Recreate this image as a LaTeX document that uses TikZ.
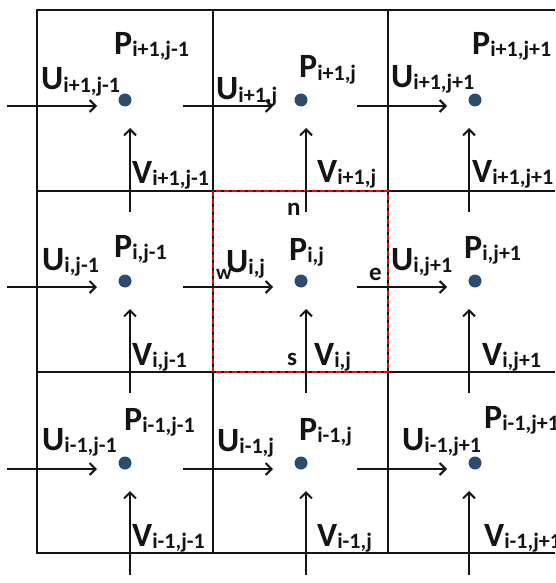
\documentclass[tikz,border=0pt]{standalone}
\usepackage{fontspec}
\setmainfont{Carlito}
\usetikzlibrary{arrows.meta}
\definecolor{dotblue}{HTML}{2B4C6F}
\definecolor{ink}{HTML}{141414}
\newcommand{\lbl}[2]{#1\raisebox{-2pt}{\fontsize{22}{22}\selectfont #2}}
\tikzset{
  grid/.style={line width=2.4pt, ink},
  redbox/.style={line width=2.4pt, red, dash pattern=on 5pt off 3pt},
  uarr/.style={line width=2pt, ink, -{Straight Barb[length=6pt,width=12pt,line width=2pt]}},
  varr/.style={line width=2pt, ink, -{Straight Barb[length=6pt,width=12pt,line width=2pt]}},
  pdot/.style={circle, fill=dotblue, minimum size=13pt, inner sep=0pt},
  lab/.style={anchor=base west, inner sep=0pt, text=ink, font=\bfseries\fontsize{34}{34}\selectfont},
  small/.style={anchor=base west, inner sep=0pt, text=ink, font=\bfseries\fontsize{25}{25}\selectfont}
}
\begin{document}
\begin{tikzpicture}[x=1pt,y=-1pt]
\useasboundingbox (0,0) rectangle (555,583);
% grid
\foreach \xx in {37,213,388} \draw[grid] (\xx,9) -- (\xx,554);
\foreach \yy in {10,191,372,553} \draw[grid] (36,\yy) -- (555,\yy);
\draw[redbox] (213,191) rectangle (388,372);
% dots
\foreach \r/\yy in {1/100,2/281,3/463}{
  \foreach \c/\xx in {1/125,2/301,3/475}{
    \node[pdot] (d\r\c) at (\xx,\yy) {};
  }
}
% U arrows
\foreach \r in {1,2,3}{
  \foreach \c in {1,2,3}{
    \draw[uarr] ([xshift=-118pt,yshift=-6pt]d\r\c.center) -- ([xshift=-28pt,yshift=-6pt]d\r\c.center);
  }
}
% V arrows
\foreach \r in {1,2,3}{
  \foreach \c/\dx in {1/5,2/5,3/-6}{
    \draw[varr] ([xshift=\dx pt,yshift=-112pt]d\r\c.center) -- ([xshift=\dx pt,yshift=-28pt]d\r\c.center);
  }
}
% row 1 labels
\node[lab] (p11) at (114,55) {\lbl{P}{i+1,j-1}};
\node[lab] (u11) at (41,90) {\lbl{U}{i+1,j-1}};
\node[lab] (v11) at (132,183) {\lbl{V}{i+1,j-1}};
\node[lab] (u12) at (216,100) {\lbl{U}{i+1,j}};
\node[lab] (p12) at (299,78) {\lbl{P}{i+1,j}};
\node[lab] (v12) at (317,182) {\lbl{V}{i+1,j}};
\node[lab] (u13) at (391,88) {\lbl{U}{i+1,j+1}};
\node[lab] (p13) at (472,55) {\lbl{P}{i+1,j+1}};
\node[lab] (v13) at (472,182) {\lbl{V}{i+1,j+1}};
% row 2 labels
\node[lab] (u21) at (42,270) {\lbl{U}{i,j-1}};
\node[lab] (p21) at (114,257) {\lbl{P}{i,j-1}};
\node[lab] (v21) at (132,365) {\lbl{V}{i,j-1}};
\node[lab] (u22) at (226,272) {\lbl{U}{i,j}};
\node[small, font=\bfseries\fontsize{21}{21}\selectfont] (w) at (216,279) {w};
\node[lab] (p22) at (289,260) {\lbl{P}{i,j}};
\node[small] (n) at (287,215) {n};
\node[small] (e) at (369,280) {e};
\node[small] (s) at (287,365) {s};
\node[lab] (u23) at (391,270) {\lbl{U}{i,j+1}};
\node[lab] (p23) at (464,258) {\lbl{P}{i,j+1}};
\node[lab] (v22) at (314,365) {\lbl{V}{i,j}};
\node[lab] (v23) at (482,365) {\lbl{V}{i,j+1}};
% row 3 labels
\node[lab] (p31) at (124,430) {\lbl{P}{i-1,j-1}};
\node[lab] (u31) at (42,450) {\lbl{U}{i-1,j-1}};
\node[lab] (v31) at (132,546) {\lbl{V}{i-1,j-1}};
\node[lab] (u32) at (217,451) {\lbl{U}{i-1,j}};
\node[lab] (p32) at (299,440) {\lbl{P}{i-1,j}};
\node[lab] (v32) at (317,546) {\lbl{V}{i-1,j}};
\node[lab] (u33) at (402,450) {\lbl{U}{i-1,j+1}};
\node[lab] (p33) at (484,428) {\lbl{P}{i-1,j+1}};
\node[lab] (v33) at (484,546) {\lbl{V}{i-1,j+1}};
\end{tikzpicture}
\end{document}
